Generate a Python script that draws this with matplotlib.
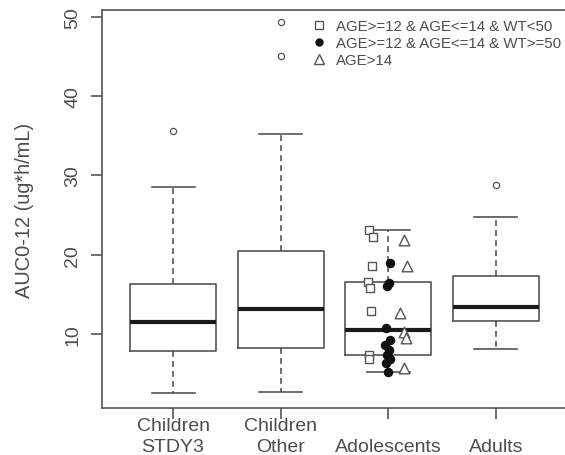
import numpy as np
import matplotlib
matplotlib.use("Agg")
import matplotlib.pyplot as plt
from matplotlib.lines import Line2D

# ---- data -------------------------------------------------------------
groups = ["Children\nSTDY3", "Children\nOther", "\nAdolescents", "\nAdults"]

q1 = [7.9, 8.2, 7.4, 11.6]
medians = [11.5, 13.2, 10.5, 13.4]
q3 = [16.3, 20.5, 16.6, 17.3]
whisk_lo = [2.5, 2.65, 5.2, 8.1]
whisk_hi = [28.5, 35.2, 23.1, 24.7]
outliers = [[35.6], [45.1, 49.4], [], [28.8]]

# individual adolescent values by subgroup
adol_wt_lt50 = [23.1, 22.2, 18.6, 16.5, 15.8, 12.9, 7.4, 6.8]
adol_wt_ge50 = [19.0, 16.4, 16.0, 10.8, 9.2, 8.6, 8.0, 7.4, 6.8, 6.3, 5.2]
adol_age_gt14 = [21.8, 18.6, 12.7, 10.2, 9.5, 5.7]

legend_labels = ["AGE>=12 & AGE<=14 & WT<50",
                 "AGE>=12 & AGE<=14 & WT>=50",
                 "AGE>14"]

ylabel = "AUC0-12 (ug*h/mL)"
yticks = [10, 20, 30, 40, 50]

# ---- style ------------------------------------------------------------
plt.rcParams["font.family"] = ["Liberation Sans", "DejaVu Sans"]
TXT = "#4d4d4d"
LN = "#555555"

W, H = 565, 456
fig = plt.figure(figsize=(W / 100, H / 100), dpi=100)
ax = fig.add_axes([102 / W, 1 - 409 / H, (567 - 102) / W, (409 - 11) / H])
ax.set_xlim(0.34, 4.66)
ax.set_ylim(0.66, 50.88)

stats = []
for i in range(len(groups)):
    stats.append(dict(q1=q1[i], med=medians[i], q3=q3[i],
                      whislo=whisk_lo[i], whishi=whisk_hi[i],
                      fliers=outliers[i]))

ax.bxp(stats, positions=np.arange(1, len(groups) + 1), widths=0.8,
       capwidths=0.4,
       boxprops=dict(color=LN, linewidth=1.2),
       medianprops=dict(color="#1a1a1a", linewidth=3.0, solid_capstyle="butt"),
       whiskerprops=dict(color=LN, linewidth=1.2, linestyle=(0, (3.5, 2.5))),
       capprops=dict(color=LN, linewidth=1.2),
       flierprops=dict(marker="o", markersize=4.5, markerfacecolor="none",
                       markeredgecolor=LN, markeredgewidth=0.9))

# adolescent points, each subgroup beside the box centre
centre = 3
sq_jit = [-0.005, 0.025, 0.015, -0.02, 0.0, 0.01, -0.01, -0.01]
ci_jit = [0.02, 0.01, -0.01, -0.02, 0.02, -0.03, 0.01, -0.01, 0.02, -0.02, 0.0]
tr_jit = [0.0, 0.02, -0.04, 0.0, 0.01, 0.0]
ax.scatter(centre - 0.17 + np.array(sq_jit), adol_wt_lt50, marker="s", s=36,
           facecolors="white", edgecolors=LN, linewidths=1.0, zorder=4)
ax.scatter(centre + np.array(ci_jit), adol_wt_ge50, marker="o", s=34,
           color="#111111", zorder=5)
ax.scatter(centre + 0.15 + np.array(tr_jit), adol_age_gt14, marker="^", s=58,
           facecolors="white", edgecolors=LN, linewidths=1.0, zorder=4)

# axes, ticks, labels
for sp in ax.spines.values():
    sp.set_color(LN)
    sp.set_linewidth(1.2)

ax.set_xticks(np.arange(1, len(groups) + 1))
ax.set_xticklabels(groups, fontsize=14, color=TXT, linespacing=1.3)
ax.set_yticks(yticks)
ax.set_yticklabels([str(t) for t in yticks], fontsize=14, color=TXT,
                   rotation=90, va="center")
ax.tick_params(axis="both", direction="out", length=8, width=1.2, color=LN)
ax.tick_params(axis="x", pad=-1.5)
ax.tick_params(axis="y", pad=7)

fig.text(25 / W, 1 - 210 / H, ylabel, rotation=90, fontsize=14.4, color=TXT,
         ha="center", va="center")

handles = [
    Line2D([], [], linestyle="none", marker="s", markersize=5.5,
           markerfacecolor="white", markeredgecolor=LN, markeredgewidth=1.0),
    Line2D([], [], linestyle="none", marker="o", markersize=5.0,
           markerfacecolor="#111111", markeredgecolor="#111111"),
    Line2D([], [], linestyle="none", marker="^", markersize=7,
           markerfacecolor="white", markeredgecolor=LN, markeredgewidth=1.0),
]
leg = ax.legend(handles, legend_labels, loc="upper left",
                bbox_to_anchor=(311 / W, 1 - 20 / H),
                bbox_transform=fig.transFigure, frameon=False,
                fontsize=10.8, handlelength=1.0, handletextpad=0.65,
                labelspacing=0.2, borderpad=0, borderaxespad=0)
for t in leg.get_texts():
    t.set_color(TXT)

fig.savefig("out.png", dpi=100)
